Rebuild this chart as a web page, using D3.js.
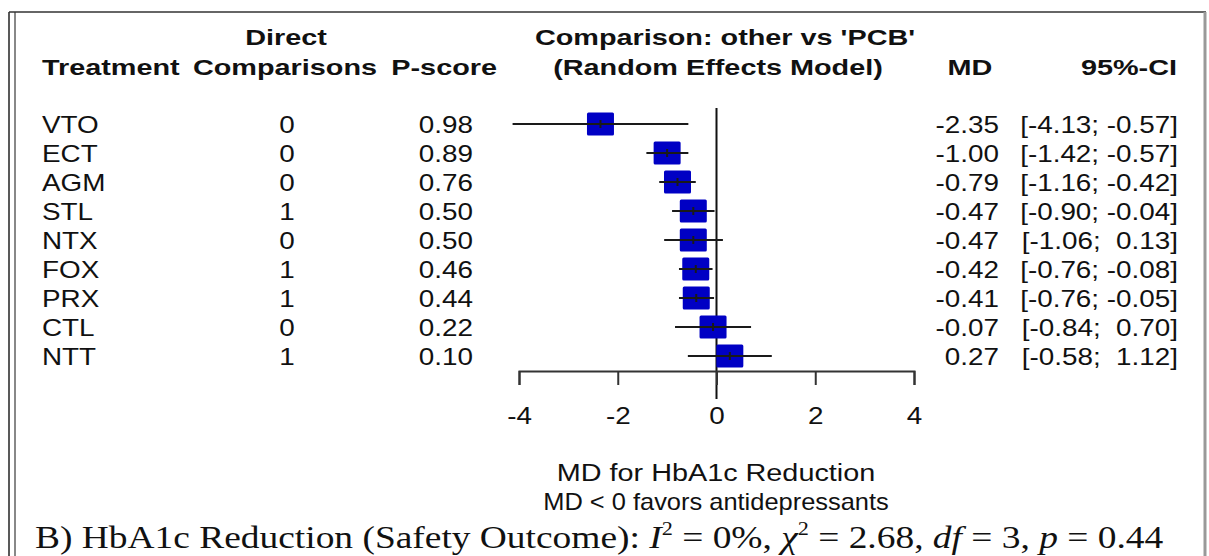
<!DOCTYPE html>
<html>
<head>
<meta charset="utf-8">
<script src="https://cdn.jsdelivr.net/npm/d3@7"></script>
<style>
  html, body { margin: 0; padding: 0; background: #fff; }
  svg text { white-space: pre; }
</style>
</head>
<body>
<div id="chart"></div>
<script>
// Data
const treatments = ['VTO', 'ECT', 'AGM', 'STL', 'NTX', 'FOX', 'PRX', 'CTL', 'NTT'];
const directComparisons = [0, 0, 0, 1, 0, 1, 1, 0, 1];
const pScores = [0.98, 0.89, 0.76, 0.50, 0.50, 0.46, 0.44, 0.22, 0.10];
const md = [-2.35, -1.00, -0.79, -0.47, -0.47, -0.42, -0.41, -0.07, 0.27];
const ciLower = [-4.13, -1.42, -1.16, -0.90, -1.06, -0.76, -0.76, -0.84, -0.58];
const ciUpper = [-0.57, -0.57, -0.42, -0.04, 0.13, -0.08, -0.05, 0.70, 1.12];
const xTicks = [-4, -2, 0, 2, 4];

const width = 1209;
const height = 556;
const BODY = 'Liberation Sans, Arial, Helvetica, sans-serif';
const SX = 1.16;     // the source picture is stretched horizontally
const HX = 1.31;

const svg = d3.select('#chart')
  .append('svg')
  .attr('width', width)
  .attr('height', height);

svg.append('rect').attr('width', width).attr('height', height).attr('fill', '#fff');

// frame
svg.append('line').attr('x1', 9).attr('x2', 9).attr('y1', 12).attr('y2', height)
  .attr('stroke', '#222').attr('stroke-width', 1.5);
svg.append('line').attr('x1', 15).attr('x2', 15).attr('y1', 12).attr('y2', height)
  .attr('stroke', '#888').attr('stroke-width', 2);
svg.append('line').attr('x1', 9).attr('x2', 1206).attr('y1', 12).attr('y2', 12)
  .attr('stroke', '#333').attr('stroke-width', 1.5);
svg.append('line').attr('x1', 1205).attr('x2', 1205).attr('y1', 12).attr('y2', height)
  .attr('stroke', '#999').attr('stroke-width', 3);

function label(x, y, s, o = {}) {
  return svg.append('text')
    .attr('transform', `translate(${x},${y}) scale(${o.sx || SX},1)`)
    .attr('text-anchor', o.anchor || 'start')
    .attr('font-family', o.family || BODY)
    .attr('font-size', o.size || 24)
    .attr('font-weight', o.weight || 'normal')
    .attr('fill', '#111')
    .text(s);
}

// header
const hd = { weight: 'bold', size: 22, sx: HX, anchor: 'middle' };
label(286, 45, 'Direct', hd);
label(42, 75, 'Treatment', { ...hd, anchor: 'start' });
label(285, 75, 'Comparisons', hd);
label(497, 75, 'P-score', { ...hd, anchor: 'end' });
label(725, 45, "Comparison: other vs 'PCB'", hd);
label(718, 75, '(Random Effects Model)', hd);
label(970, 75, 'MD', hd);
label(1177, 75, '95%-CI', { ...hd, anchor: 'end' });

// scales
const x = d3.scaleLinear().domain([-4, 4]).range([519, 914]);
const y = d3.scalePoint().domain(treatments).range([124, 356]);
const fmt = v => v.toFixed(2);
const fmtCi = v => (v >= 0 ? ' ' : '') + fmt(v);

// table columns
treatments.forEach((t, i) => {
  const base = y(t) + 9;
  label(42, base, t);
  label(287, base, String(directComparisons[i]), { anchor: 'middle' });
  label(473, base, fmt(pScores[i]), { anchor: 'end' });
  label(999, base, fmt(md[i]), { anchor: 'end' });
  label(1178, base, `[${fmt(ciLower[i])}; ${fmtCi(ciUpper[i])}]`, { anchor: 'end' });
});

// zero line
svg.append('line')
  .attr('x1', x(0)).attr('x2', x(0))
  .attr('y1', 108).attr('y2', 399)
  .attr('stroke', '#111').attr('stroke-width', 2);

// boxes
svg.selectAll('.box')
  .data(treatments)
  .join('rect')
  .attr('class', 'box')
  .attr('x', (d, i) => x(md[i]) - 13.5)
  .attr('y', d => y(d) - 11.5)
  .attr('width', 27)
  .attr('height', 23)
  .attr('rx', 1.5)
  .attr('fill', '#0000c4');

// CI lines and estimate marks
svg.selectAll('.ci')
  .data(treatments)
  .join('line')
  .attr('class', 'ci')
  .attr('x1', (d, i) => x(ciLower[i]))
  .attr('x2', (d, i) => x(ciUpper[i]))
  .attr('y1', d => y(d))
  .attr('y2', d => y(d))
  .attr('stroke', '#1a1a1a')
  .attr('stroke-width', 2);

svg.selectAll('.est')
  .data(treatments)
  .join('line')
  .attr('class', 'est')
  .attr('x1', (d, i) => x(md[i]))
  .attr('x2', (d, i) => x(md[i]))
  .attr('y1', d => y(d) - 4)
  .attr('y2', d => y(d) + 4)
  .attr('stroke', '#1a1a1a')
  .attr('stroke-width', 2);

// x axis
const axis = svg.append('g')
  .attr('transform', 'translate(0,371)')
  .call(d3.axisBottom(x).tickValues(xTicks).tickSize(14).tickSizeOuter(14));
axis.selectAll('.domain, .tick line').attr('stroke', '#333').attr('stroke-width', 2);
axis.selectAll('.tick text')
  .attr('y', 53).attr('dy', 0)
  .attr('transform', `scale(${SX},1)`)
  .attr('font-family', BODY)
  .attr('font-size', 24)
  .attr('fill', '#111')
  .text(d => String(d));

// axis captions
label(716, 481, 'MD for HbA1c Reduction', { anchor: 'middle', sx: 1.2 });
label(716, 510, 'MD < 0 favors antidepressants', { anchor: 'middle', sx: 1.06 });

// bottom caption (Times, with italics and superscripts)
const cap = svg.append('text')
  .attr('transform', 'translate(35,548) scale(1.17,1)')
  .attr('font-family', 'Liberation Serif, Times New Roman, serif')
  .attr('font-size', 32)
  .attr('fill', '#111');
const parts = [
  ['B) HbA1c Reduction (Safety Outcome): '],
  ['I', 'i'], ['2', 's'], [' = 0%, '],
  ['χ', 'i'], ['2', 's'], [' = 2.68, '],
  ['df', 'i'], [' = 3, '],
  ['p', 'i'], [' = 0.44']
];
let afterSup = false;
parts.forEach(([s, k]) => {
  const ts = cap.append('tspan').text(s);
  if (k === 'i') ts.attr('font-style', 'italic');
  if (k === 's') ts.attr('font-size', 19).attr('dy', -13);
  else if (afterSup) ts.attr('dy', 13);
  afterSup = k === 's';
});
</script>
</body>
</html>
